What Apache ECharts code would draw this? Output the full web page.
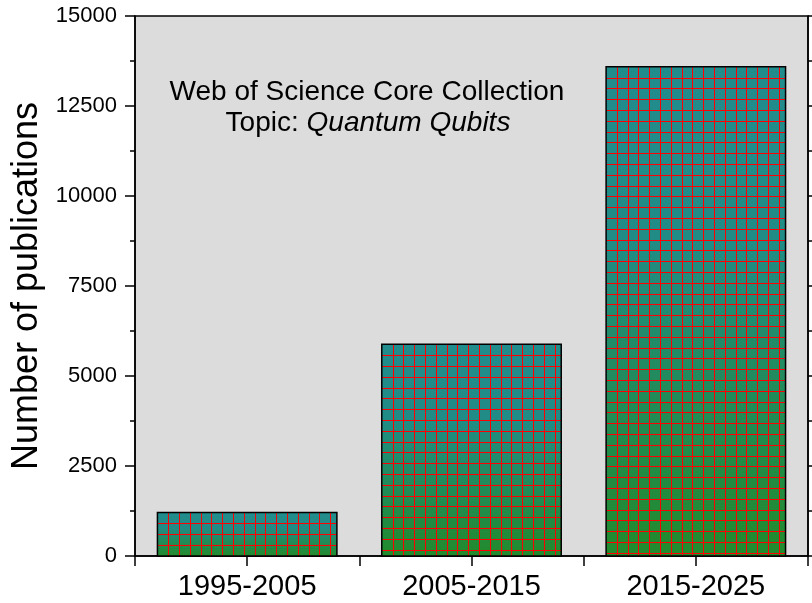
<!DOCTYPE html>
<html>
<head>
<meta charset="utf-8">
<script src="https://cdn.jsdelivr.net/npm/echarts@6/dist/echarts.min.js"></script>
<style>
  html, body { margin: 0; padding: 0; background: #fff; }
  #chart { width: 812px; height: 603px; }
</style>
</head>
<body>
<div id="chart"></div>
<script>
// data
var periods = ["1995-2005", "2005-2015", "2015-2025"];
var publications = [1210, 5880, 13590];
var yTicks = [0, 2500, 5000, 7500, 10000, 12500, 15000];

var FONT = "'Liberation Sans', Arial, sans-serif";
var barWidth = 0.8;      // share of one category
var cellStep = 300;      // red grid cell, in publication units

var chart = echarts.init(document.getElementById("chart"));

// keep 1px lines on the pixel grid
function snap(p) {
  return Math.round(p) + 0.5;
}

// bar with gradient fill, red grid on top and black outline
function renderBar(params, api) {
  var i = api.value(0);
  var v = api.value(1);
  var top = api.coord([i, v]);
  var base = api.coord([i, 0]);
  var w = api.size([barWidth, 0])[0];
  var cell = api.size([0, cellStep])[1];
  var x0 = top[0] - w / 2;
  var y0 = top[1];
  var h = base[1] - top[1];

  var children = [{
    type: "rect",
    shape: { x: x0, y: y0, width: w, height: h },
    style: {
      fill: new echarts.graphic.LinearGradient(0, 0, 0, 1, [
        { offset: 0, color: "#218c8c" },
        { offset: 0.35, color: "#218c86" },
        { offset: 1, color: "#228b2c" }
      ])
    }
  }];
  for (var x = x0 + cell; x < x0 + w - 2; x += cell) {
    children.push({
      type: "line",
      shape: { x1: snap(x), y1: y0, x2: snap(x), y2: y0 + h },
      style: { stroke: "#ff0000", lineWidth: 1 }
    });
  }
  for (var y = y0 + cell; y < y0 + h - 2; y += cell) {
    children.push({
      type: "line",
      shape: { x1: x0, y1: snap(y), x2: x0 + w, y2: snap(y) },
      style: { stroke: "#ff0000", lineWidth: 1 }
    });
  }
  children.push({
    type: "rect",
    shape: { x: x0, y: y0, width: w, height: h },
    style: { fill: null, stroke: "#000", lineWidth: 1.5 }
  });
  return { type: "group", children: children };
}

function plainNumber(v) {
  return String(v);
}

var option = {
  backgroundColor: "#fff",
  animation: false,
  grid: {
    left: 135, right: 4, top: 16, bottom: 47,
    show: true,
    backgroundColor: "#dcdcdc",
    borderColor: "#000",
    borderWidth: 1.5
  },
  xAxis: {
    type: "value",
    min: -0.5,
    max: 2.5,
    interval: 0.5,
    axisLine: { show: true, onZero: false, lineStyle: { color: "#000", width: 1.5 } },
    axisTick: { show: true, length: 10, lineStyle: { color: "#000", width: 1.5 } },
    splitLine: { show: false },
    axisLabel: {
      fontFamily: FONT,
      fontSize: 29,
      color: "#000",
      margin: 16,
      formatter: function (v) {
        return Number.isInteger(v) ? periods[v] : "";
      }
    }
  },
  yAxis: [{
    type: "value",
    min: yTicks[0],
    max: yTicks[yTicks.length - 1],
    interval: yTicks[1] - yTicks[0],
    name: "Number of publications",
    nameLocation: "middle",
    nameGap: 90,
    nameTextStyle: { fontFamily: FONT, fontSize: 36, color: "#000" },
    axisLine: { show: true, onZero: false, lineStyle: { color: "#000", width: 1.5 } },
    axisTick: { show: true, length: 10, lineStyle: { color: "#000", width: 1.5 } },
    minorTick: { show: true, splitNumber: 2, length: 5, lineStyle: { color: "#000", width: 1.5 } },
    splitLine: { show: false },
    axisLabel: { fontFamily: FONT, fontSize: 22, color: "#000", margin: 18, formatter: plainNumber }
  }, {
    type: "value",
    position: "right",
    min: yTicks[0],
    max: yTicks[yTicks.length - 1],
    interval: yTicks[1] - yTicks[0],
    axisLine: { show: true, onZero: false, lineStyle: { color: "#000", width: 1.5 } },
    axisTick: { show: true, length: 10, lineStyle: { color: "#000", width: 1.5 } },
    minorTick: { show: true, splitNumber: 2, length: 10, lineStyle: { color: "#000", width: 1.5 } },
    splitLine: { show: false },
    axisLabel: { show: false }
  }],
  graphic: [{
    type: "text",
    x: 367, y: 92,
    style: {
      text: "Web of Science Core Collection",
      font: "28px " + FONT,
      fill: "#000",
      align: "center",
      verticalAlign: "middle"
    }
  }, {
    type: "text",
    x: 368, y: 123,
    style: {
      text: "Topic: {i|Quantum Qubits}",
      font: "28px " + FONT,
      fill: "#000",
      align: "center",
      verticalAlign: "middle",
      rich: {
        i: { fontStyle: "italic", fontSize: 28, fontFamily: FONT, color: "#000" }
      }
    }
  }],
  series: [{
    type: "custom",
    renderItem: renderBar,
    encode: { x: 0, y: 1 },
    data: publications.map(function (v, i) { return [i, v]; })
  }]
};

chart.setOption(option);
</script>
</body>
</html>
